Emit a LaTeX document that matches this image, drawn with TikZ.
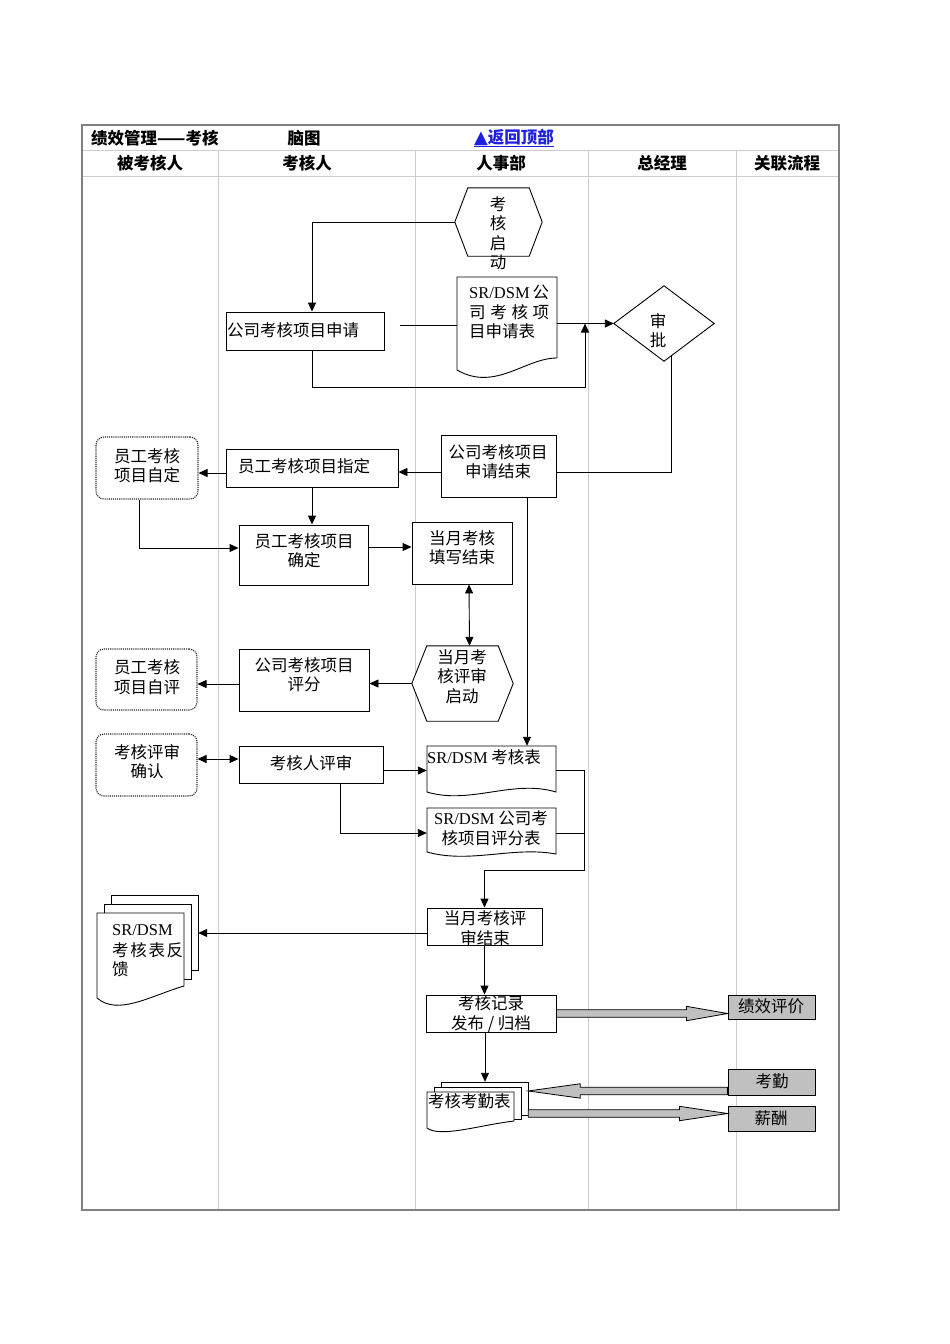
\documentclass[tikz,border=0pt]{standalone}
\usepackage{fontspec}
\setmainfont{Liberation Serif}
\newfontfamily\cjk{Noto Sans CJK SC}
\newfontfamily\djv{DejaVu Sans}
\newcommand{\lt}[1]{{\rmfamily #1}}
\usetikzlibrary{arrows.meta,calc}
\definecolor{gridc}{HTML}{CCCCCC}
\definecolor{framec}{HTML}{808080}
\definecolor{boxgray}{HTML}{C0C0C0}
\definecolor{linkc}{HTML}{1F1FE0}
\newcommand{\blockarrow}[3]{\draw[barrow] ($(#1)+(0,-3.8)$) -- ($(#2)+({-1*(#3)},-3.8)$) -- ($(#2)+({-1*(#3)},-7.2)$) -- (#2) -- ($(#2)+({-1*(#3)},7.2)$) -- ($(#2)+({-1*(#3)},3.8)$) -- ($(#1)+(0,3.8)$) -- cycle;}
\begin{document}
\begin{tikzpicture}[x=1pt,y=-1pt,
  font=\cjk\fontsize{16.5}{19.5}\selectfont,
  zone/.style 2 args={rectangle,draw=none,inner sep=0pt,minimum width=#1,minimum height=#2},
  pbox/.style 2 args={zone={#1}{#2},draw=black,line width=0.9pt,fill=white},
  dotbox/.style 2 args={zone={#1}{#2},draw=black!85,line width=1.1pt,densely dotted,rounded corners=8pt},
  graybox/.style 2 args={zone={#1}{#2},draw=black,line width=0.9pt,fill=boxgray},
  outl/.style={draw=black,line width=0.9pt,fill=white},
  txt/.style={inner sep=0pt,align=center},
  hdr/.style={inner sep=0pt,font=\cjk\bfseries\fontsize{16.5}{19}\selectfont},
  conn/.style={draw=black,line width=0.9pt},
  arr/.style={conn,-{Triangle[length=9pt,width=8pt]}},
  dbl/.style={conn,{Triangle[length=9pt,width=8pt]}-{Triangle[length=9pt,width=8pt]}},
  lane/.style={draw=gridc,line width=1pt},
  barrow/.style={draw=black,line width=0.8pt,fill=boxgray},
]
\useasboundingbox (0,0) rectangle (950,1344);
\fill[white] (0,0) rectangle (950,1344);

% table
\draw[lane] (82,150) -- (839,150);
\draw[lane] (82,176) -- (839,176);
\foreach \x in {218,415,588,736} \draw[lane] (\x,150) -- (\x,1210);
\draw[framec,line width=1.3pt] (82,125) rectangle (839,1210);

\node[hdr,anchor=west] (title) at (91,138) {绩效管理——考核};
\node[hdr] (brain) at (304,138) {脑图};
\node[hdr,text=linkc] (back) at (514,138) {\underline{{\djv\fontsize{18}{18}\selectfont ▲}返回顶部}};
\node[hdr] (h1) at (150,163) {被考核人};
\node[hdr] (h2) at (307,163) {考核人};
\node[hdr] (h3) at (501,163) {人事部};
\node[hdr] (h4) at (662,163) {总经理};
\node[hdr] (h5) at (787,163) {关联流程};

% shape nodes
\node[zone={87}{68}] (start) at (498.5,222) {};
\draw[outl] (start.west) -- ($(start.north west)+(13,0)$) -- ($(start.north east)+(-13,0)$) -- (start.east) -- ($(start.south east)+(-13,0)$) -- ($(start.south west)+(13,0)$) -- cycle;
\node[pbox={158}{38}] (apply) at (305,331) {};
\node[zone={100}{101}] (doc1) at (507,327.5) {};
\draw[outl] (457,277) -- (557,277) -- (557,358) .. controls (525,358) and (495,392) .. (457,370) -- cycle;
\node[zone={100}{75}] (dia) at (664,323.5) {};
\draw[outl] (dia.west) -- (dia.north) -- (dia.east) -- (dia.south) -- cycle;
\node[pbox={115}{62}] (appEnd) at (498.5,466) {};
\node[pbox={172}{38}] (assign) at (312,468) {};
\node[dotbox={102}{62}] (self) at (147,468) {};
\node[pbox={129}{60}] (confirm) at (303.5,555) {};
\node[pbox={100}{62}] (fillEnd) at (462,553) {};
\node[zone={101}{75}] (revStart) at (462.5,683.5) {};
\draw[outl] (revStart.west) -- ($(revStart.north west)+(15,0)$) -- ($(revStart.north east)+(-15,0)$) -- (revStart.east) -- ($(revStart.south east)+(-15,0)$) -- ($(revStart.south west)+(15,0)$) -- cycle;
\node[pbox={130}{62}] (score) at (304,680) {};
\node[dotbox={101}{61}] (selfEval) at (146.5,679.5) {};
\node[dotbox={101}{62}] (revConfirm) at (146.5,765) {};
\node[pbox={144}{37}] (reviewer) at (311,764.5) {};
\node[zone={129}{54}] (sheet) at (491.5,773) {};
\draw[outl] (427,746) -- (556,746) -- (556,792) .. controls (513,779) and (470,805) .. (427,792) -- cycle;
\node[zone={129}{52}] (scoreSheet) at (491.5,834) {};
\draw[outl] (427,808) -- (556,808) -- (556,854) .. controls (513,846) and (470,864) .. (427,852) -- cycle;
\node[pbox={115}{37}] (revEnd) at (484.5,926.5) {};
\node[zone={101}{113}] (feedback) at (147.5,951.5) {};
\draw[outl] (111,895) rectangle (198,970);
\draw[outl] (104,904) rectangle (191,979);
\draw[outl] (97,913) -- (184,913) -- (184,986) .. controls (150,996) and (118,1016) .. (97,998) -- cycle;
\node[pbox={130}{37}] (record) at (491,1013.5) {};
\node[zone={101}{51}] (attendDoc) at (477.5,1107.5) {};
\draw[outl] (441,1082) rectangle (528,1115);
\draw[outl] (434,1087) rectangle (521,1119);
\draw[outl] (427,1092) -- (514,1092) -- (514,1121) .. controls (480,1125) and (440,1138) .. (427,1128) -- cycle;
\node[graybox={87}{24}] (perf) at (771.5,1007) {};
\node[graybox={87}{26}] (attendance) at (771.5,1082) {};
\node[graybox={87}{25}] (salary) at (771.5,1119) {};

% connectors
\draw[arr] (start.west) -| ($(apply.north)+(7,0)$);
\coordinate (segL) at (400,325);
\draw[conn] (segL) -- (doc1.west |- segL);
\draw[arr] (doc1.east |- dia.west) -- (dia.west);
\coordinate (loopR) at (585,387);
\draw[arr] ($(apply.south)+(7,0)$) |- (loopR) -- (loopR |- dia.west);
\draw[conn] ($(dia.south)+(7,-5.2)$) |- ($(appEnd.east)+(0,6)$);
\coordinate (p6) at ($(appEnd.west)+(0,6)$);
\draw[arr] (p6) -- (assign.east |- p6);
\coordinate (p7) at ($(assign.west)+(0,5)$);
\draw[arr] (p7) -- (self.east |- p7);
\draw[arr] (assign.south) -- (assign.south |- confirm.north);
\coordinate (p9) at ($(confirm.west)+(0,-7)$);
\draw[arr] ($(self.south)+(-8,0)$) |- (p9);
\coordinate (p10) at ($(confirm.east)+(0,-8)$);
\draw[arr] (p10) -- (fillEnd.west |- p10);
\draw[dbl] ($(fillEnd.south)+(7,0)$) -- ($(revStart.north)+(7,0)$);
\draw[arr] (revStart.west) -- (score.east |- revStart.west);
\coordinate (p13) at ($(score.west)+(0,4)$);
\draw[arr] (p13) -- (selfEval.east |- p13);
\coordinate (p14) at ($(revConfirm.east)+(0,-6)$);
\draw[dbl] (p14) -- (reviewer.west |- p14);
\coordinate (p15) at ($(reviewer.east)+(0,6)$);
\draw[arr] (p15) -- (sheet.west |- p15);
\coordinate (p16) at ($(scoreSheet.west)+(0,-1)$);
\draw[arr] ($(reviewer.south)+(29,0)$) |- (p16);
\coordinate (p17) at ($(appEnd.south)+(28.5,0)$);
\draw[arr] (p17) -- (p17 |- sheet.north);
\coordinate (mergeB) at (584,870);
\draw[arr] (sheet.east |- p15) -| (mergeB) -| (revEnd.north);
\draw[conn] (scoreSheet.east |- p16) -- (mergeB |- p16);
\coordinate (p19) at ($(revEnd.west)+(0,6.5)$);
\draw[arr] (p19) -- (feedback.east |- p19);
\draw[arr] (revEnd.south) -- (revEnd.south |- record.north);
\coordinate (p21) at ($(record.south)+(-6,0)$);
\draw[arr] (p21) -- (p21 |- attendDoc.north);

% block arrows
\coordinate (b1s) at (record.east);
\coordinate (b1e) at (perf.west |- record.east);
\blockarrow{b1s}{b1e}{41}
\coordinate (b2s) at ($(attendance.south west)+(0,-4.5)$);
\coordinate (b2e) at (attendDoc.east |- b2s);
\blockarrow{b2s}{b2e}{-52}
\coordinate (b3e) at ($(salary.west)+(0,-5.5)$);
\coordinate (b3s) at (attendDoc.east |- b3e);
\blockarrow{b3s}{b3e}{48}

% texts
\node[txt] (tStart) at (498,233) {考\\核\\启\\动};
\node[txt,anchor=west] (tApply) at (227,330) {公司考核项目申请};
\node[txt,anchor=west] (tD1a) at (469,292) {\makebox[80pt]{\lt{SR/DSM}\hfill 公}};
\node[txt,anchor=west] (tD1b) at (469,312) {\makebox[80pt]{司\hfill 考\hfill 核\hfill 项}};
\node[txt,anchor=west] (tD1c) at (469,331) {目申请表};
\node[txt] (tDia) at (658,330.5) {审\\批};
\node[txt] (tAppEnd) at (498,461.5) {公司考核项目\\申请结束};
\node[txt] (tAssign) at (304,466) {员工考核项目指定};
\node[txt] (tSelf) at (147,465.5) {员工考核\\项目自定};
\node[txt] (tConfirm) at (304,550.5) {员工考核项目\\确定};
\node[txt] (tFill) at (462,547.5) {当月考核\\填写结束};
\node[txt] (tRevStart) at (462,676.5) {当月考\\核评审\\启动};
\node[txt] (tScore) at (304,674.5) {公司考核项目\\评分};
\node[txt] (tSelfEval) at (147,677) {员工考核\\项目自评};
\node[txt] (tRevConf) at (147,761.5) {考核评审\\确认};
\node[txt] (tReviewer) at (311,763) {考核人评审};
\node[txt,anchor=west] (tSheet) at (427,757) {\lt{SR/DSM} 考核表};
\node[txt] (tScoreSheet) at (491,828) {\lt{SR/DSM} 公司考\\核项目评分表};
\node[txt] (tRevEnd) at (485,928) {当月考核评\\审结束};
\node[txt,anchor=west] (tFb1) at (112,930) {\lt{SR/DSM}};
\node[txt,anchor=west] (tFb2) at (112,950) {\makebox[71pt]{考\hfill 核\hfill 表\hfill 反}};
\node[txt,anchor=west] (tFb3) at (112,969) {馈};
\node[txt] (tRecord) at (491,1014) {考核记录\\发布 / 归档};
\node[txt,anchor=west] (tAttend) at (428,1101) {考核考勤表};
\node[txt] (tPerf) at (771,1006) {绩效评价};
\node[txt] (tAtt) at (772,1081) {考勤};
\node[txt] (tSal) at (771,1118) {薪酬};
\end{tikzpicture}
\end{document}
